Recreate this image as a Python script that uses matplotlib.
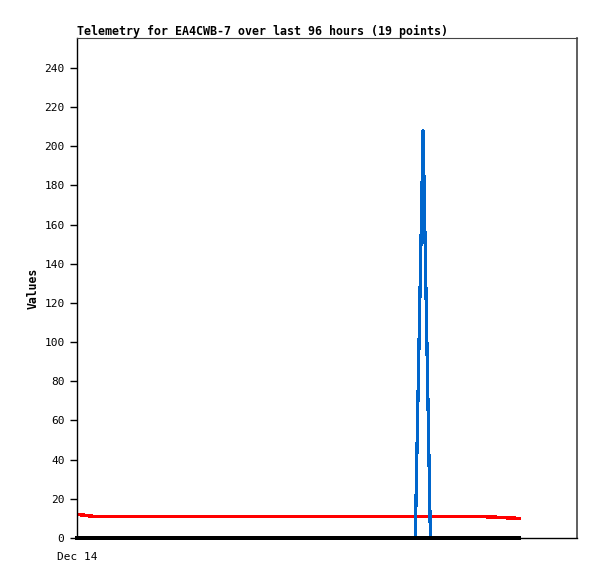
import matplotlib.pyplot as plt
import numpy as np

# hours since Dec 14 00:00
hours_blue = [0, 64.95, 66.45, 67.85, 84.9]
blue_vals = [0, 0, 208, 0, 0]

hours_red = [0, 3.2, 77.5, 84.9]
red_vals = [12.1, 11.0, 11.0, 10.0]

hours_black = [0, 84.9]
black_vals = [0, 0]

y_ticks = list(range(0, 241, 20))
x_tick_labels = ['Dec 14']

plt.rcParams['font.family'] = ['DejaVu Sans Mono']

fig = plt.figure(figsize=(5.97, 5.79), dpi=100)
ax = fig.add_axes([77/597, 41/579, 500/597, 500/579])

ax.plot(hours_red, red_vals, color='#ff0000', lw=1.8, antialiased=False, zorder=2)
ax.plot(hours_blue, blue_vals, color='#0066cc', lw=1.6, antialiased=False, zorder=3)
ax.plot(hours_black, black_vals, color='#000000', lw=1.5, antialiased=False,
        zorder=4, clip_on=False)

ax.set_xlim(0, 96)
ax.set_ylim(0, 255.3)
ax.set_yticks(y_ticks)
ax.set_xticks([0])
ax.set_xticklabels(x_tick_labels)
ax.tick_params(axis='y', length=5, width=1, labelsize=8, pad=4)
ax.tick_params(axis='x', length=0, labelsize=8, pad=10)

ax.set_title('Telemetry for EA4CWB-7 over last 96 hours (19 points)',
             fontsize=8.4, fontweight='bold', loc='left', pad=2)
ax.set_ylabel('Values', fontsize=8.3, fontweight='bold', labelpad=3)

ax.spines['left'].set_color('black')
ax.spines['left'].set_linewidth(1.0)
ax.spines['bottom'].set_color('black')
ax.spines['bottom'].set_linewidth(1.0)
ax.spines['top'].set_color('#444444')
ax.spines['right'].set_color('#444444')
ax.spines['right'].set_linewidth(1.2)

fig.savefig('out.png', dpi=100)
